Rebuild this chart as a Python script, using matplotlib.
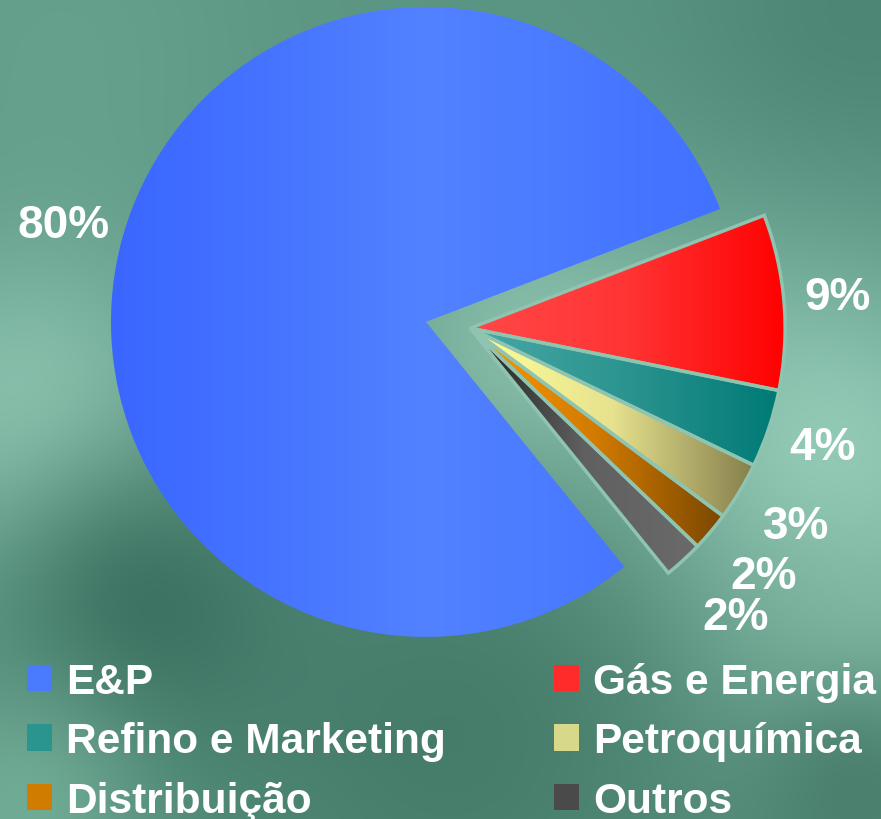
import numpy as np
import matplotlib
matplotlib.use('Agg')
import matplotlib.pyplot as plt
from matplotlib.colors import LinearSegmentedColormap, to_rgb
from matplotlib.patches import Patch

# dados
categorias = ['E&P', 'Gás e Energia', 'Refino e Marketing', 'Petroquímica', 'Distribuição', 'Outros']
percentuais = [80, 9, 4, 3, 2, 2]

# cores (cor sólida para a legenda, gradiente para as fatias)
cores = ['#4a7bff', '#ff2a2a', '#2a948f', '#d8d88a', '#d07c00', '#4a4a4a']
gradientes = [
    ['#3a66ff', '#5282ff', '#4070ff'],
    ['#ff4848', '#ff3434', '#ff0000'],
    ['#48a8a4', '#2c9490', '#007a76'],
    ['#ffff9a', '#e6e28e', '#857f4c'],
    ['#ff9a00', '#d27a00', '#7a4800'],
    ['#1e1e1e', '#606060', '#6a6a6a'],
]
# distância radial de cada rótulo (fração do raio)
dist_rotulo = [1.19, 1.17, 1.18, 1.21, 1.22, 1.245]
cor_fundo = '#8ec4b0'

plt.rcParams['font.family'] = ['Liberation Sans', 'DejaVu Sans']
plt.rcParams['font.weight'] = 'bold'

fig = plt.figure(figsize=(8.81, 8.20), dpi=100)
ax = fig.add_axes([0, 0, 1, 1])
x0, x1, y0, y1 = -1.352, 1.444, -1.578, 1.025
ax.axis('off')

# fundo verde em degradê
nx, ny = 280, 260
xx, yy = np.meshgrid(np.linspace(x0, x1, nx), np.linspace(y1, y0, ny))
img = np.ones((ny, nx, 3)) * np.array(to_rgb('#5a9482'))
manchas = [((-1.16, 0.90), 0.50, '#64a08b'),
           ((1.38, 0.96), 0.40, '#4d8674'),
           ((-1.25, -0.30), 0.40, '#8cc4b0'),
           ((0.35, -0.15), 0.40, '#8ec4b0'),
           ((1.25, -0.45), 0.45, '#96ceba'),
           ((1.30, -1.05), 0.30, '#8cc4af'),
           ((0.08, -1.32), 0.60, '#467c6a'),
           ((-0.88, -0.94), 0.35, '#3c7261'),
           ((1.37, -1.51), 0.30, '#4a806d'),
           ((-1.30, -1.55), 0.28, '#70ab95')]
for (cx, cy), s, c in manchas:
    w = np.exp(-((xx - cx) ** 2 + (yy - cy) ** 2) / (2 * s ** 2))[..., None]
    img = img * (1 - w) + np.array(to_rgb(c)) * w
ax.imshow(img, extent=[x0, x1, y0, y1], aspect='auto', zorder=0, interpolation='bicubic')

fmt = lambda p: f'{p:.0f}%'
txt_kw = dict(color='white', fontsize=33, fontweight='bold')

# E&P centrada, demais fatias deslocadas para a direita
grupos = [((0.0, 0.0), [0]), ((0.14, -0.02), [1, 2, 3, 4, 5])]
for centro, visiveis in grupos:
    borda = 'none' if centro == (0.0, 0.0) else cor_fundo
    wedges, _, textos = ax.pie(percentuais, startangle=309, counterclock=False, center=centro,
                               radius=1.0, autopct=fmt, pctdistance=1.2,
                               textprops=txt_kw, frame=True,
                               wedgeprops=dict(facecolor='none', edgecolor=borda, linewidth=2.5))
    cx, cy = centro
    for i, (w, t) in enumerate(zip(wedges, textos)):
        if i not in visiveis:
            w.set_visible(False)
            t.set_visible(False)
            continue
        w.set_zorder(3)
        t.set_zorder(4)
        meio = np.deg2rad((w.theta1 + w.theta2) / 2)
        t.set_position((cx + dist_rotulo[i] * np.cos(meio), cy + dist_rotulo[i] * np.sin(meio)))
        # degradê horizontal ao longo da própria fatia
        cmap = LinearSegmentedColormap.from_list(f'g{i}', gradientes[i])
        if i == 0:
            ext = [cx - 1, cx + 1, cy - 1, cy + 1]
        else:
            bb = w.get_path().get_extents()
            ext = [bb.x0, bb.x1, bb.y0, bb.y1]
        im = ax.imshow(np.linspace(0, 1, 256)[None, :], cmap=cmap, extent=ext,
                       aspect='auto', zorder=2, interpolation='bicubic')
        im.set_clip_path(w)

ax.set_xlim(x0, x1)
ax.set_ylim(y0, y1)
ax.set_aspect('equal')
ax.axis('off')

# legenda em 3 linhas x 2 colunas
ordem = [0, 2, 4, 1, 3, 5]
handles = [Patch(facecolor=cores[i], edgecolor='none') for i in ordem]
labels = [categorias[i] for i in ordem]
fig.legend(handles, labels, ncol=2, loc='upper left', bbox_to_anchor=(0.031, 0.1915),
           frameon=False, fontsize=30.5, labelcolor='white', handlelength=0.59,
           handleheight=0.59, handletextpad=0.33, columnspacing=2.55,
           labelspacing=0.46, borderpad=0, borderaxespad=0)

fig.savefig('out.png', dpi=100)
